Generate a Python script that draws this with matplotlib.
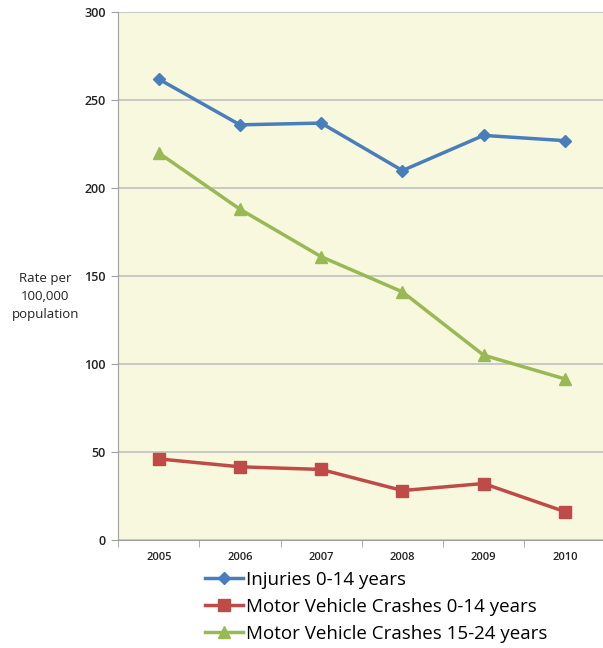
import numpy as np
import matplotlib
matplotlib.use("Agg")
import matplotlib.pyplot as plt

years = ["2005", "2006", "2007", "2008", "2009", "2010"]
injuries_0_14 = [262, 236, 237, 210, 230, 227]
mvc_0_14 = [46, 41.5, 40, 28, 32, 16]
mvc_15_24 = [220, 188, 161, 141, 105, 91.5]

plt.rcParams["font.family"] = ["Open Sans", "DejaVu Sans"]

fig = plt.figure(figsize=(6.03, 6.48), dpi=100)
ax = fig.add_axes([0.196, 0.167, 0.808, 0.814])
ax.set_facecolor("#F8F8DE")

x = np.arange(len(years))
ax.plot(x, injuries_0_14, color="#4A7EBB", lw=2.5, marker="D", ms=6,
        label="Injuries 0-14 years")
ax.plot(x, mvc_0_14, color="#BE4B48", lw=2.5, marker="s", ms=8,
        label="Motor Vehicle Crashes 0-14 years")
ax.plot(x, mvc_15_24, color="#98B954", lw=2.5, marker="^", ms=9,
        label="Motor Vehicle Crashes 15-24 years")

ax.set_xlim(-0.5, len(years) - 0.5)
ax.set_ylim(0, 300)
ax.set_yticks(range(0, 301, 50))
ax.grid(axis="y", color="#C0C0C0", lw=1.2)
ax.set_axisbelow(True)

ax.set_xticks(x)
ax.set_xticklabels(years)
ax.set_xticks(np.arange(-0.5, len(years)), minor=True)
ax.tick_params(axis="x", which="major", length=0, labelsize=8, pad=9)
ax.tick_params(axis="x", which="minor", length=5, color="#A0A0A0")
ax.tick_params(axis="y", length=5, color="#A0A0A0", labelsize=9, pad=4)
for lab in ax.get_xticklabels() + ax.get_yticklabels():
    lab.set_color("#222222")
    lab.set_fontweight("semibold")

for side in ["top", "right"]:
    ax.spines[side].set_visible(False)
for side in ["left", "bottom"]:
    ax.spines[side].set_color("#A0A0A0")

fig.text(0.075, 0.543, "Rate per\n100,000\npopulation", ha="center", va="center",
         fontsize=9.5, color="#222222", linespacing=1.5)

fig.legend(loc="upper left", bbox_to_anchor=(0.325, 0.134), frameon=False,
           fontsize=13.5, handlelength=2.0, handletextpad=0.15, labelspacing=0.48,
           borderpad=0)

fig.savefig("out.png", dpi=100)
